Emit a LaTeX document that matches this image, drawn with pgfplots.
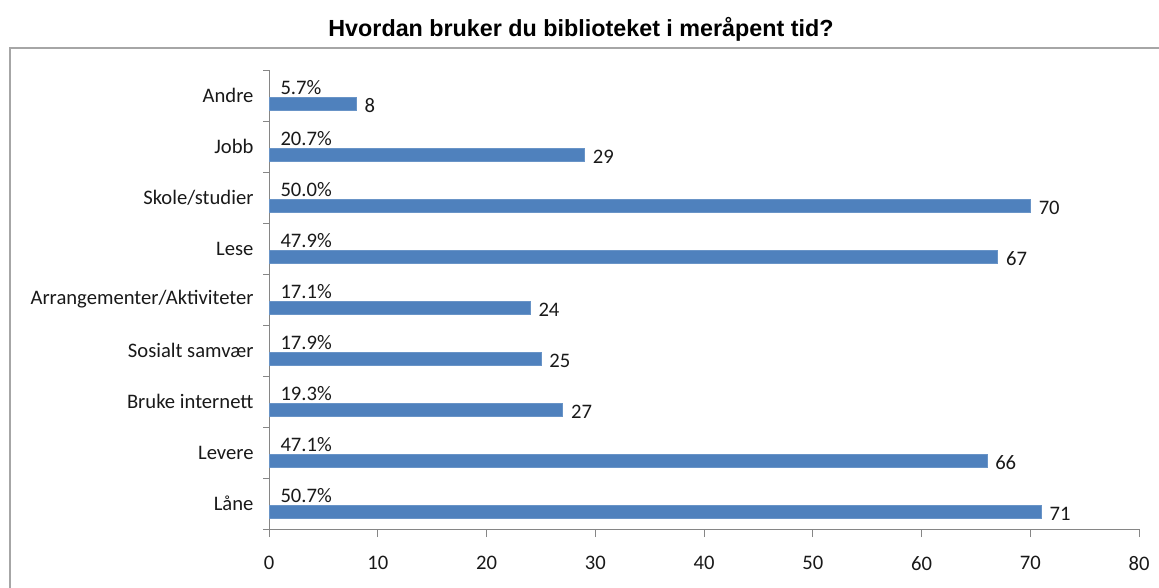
\documentclass[border=0pt]{standalone}
\usepackage{fontspec}
\setmainfont{Carlito}
\newfontfamily\titlefont{Liberation Sans}
\usepackage{pgfplots}
\pgfplotsset{compat=1.18}
\definecolor{barblue}{HTML}{4F81BD}
\definecolor{axisgray}{HTML}{868686}
\definecolor{boxgray}{HTML}{A6A6A6}
\begin{document}
\begin{tikzpicture}[x=1bp,y=1bp]
\path[use as bounding box] (0,0) rectangle (1159,-588);
\draw[boxgray, line width=1.5bp] (10,-588) -- (10,-48) -- (1159,-48);
\node[anchor=base, font=\titlefont\bfseries\fontsize{23.4}{27}\selectfont] at (581,-37) {Hvordan bruker du biblioteket i meråpent tid?};
\begin{axis}[
  at={(269bp,-529bp)}, anchor=south west,
  scale only axis, width=870bp, height=459bp,
  xmin=0, xmax=80, ymin=-0.5, ymax=8.5,
  axis lines*=left,
  axis line style={axisgray, line width=1bp},
  xtick={0,10,...,80}, tick align=outside,
  major tick length=8bp, minor tick length=6bp,
  major x tick style={axisgray, line width=1bp},
  ytick={0,...,8},
  yticklabels={Låne,Levere,Bruke internett,Sosialt samvær,Arrangementer/Aktiviteter,Lese,Skole/studier,Jobb,Andre},
  major y tick style={draw=none},
  minor ytick={-0.5,0.5,...,8.5},
  minor y tick style={axisgray, line width=1bp},
  /pgf/number format/assume math mode=true,
  ticklabel style={font=\fontsize{20.7}{24}\selectfont, text=black!90},
  yticklabel style={xshift=-4bp},
  xticklabel style={yshift=-16bp},
  xbar, bar width=12.6bp,
  clip=false,
]
\addplot[fill=barblue, draw=barblue!85!white, bar shift=-8bp,
  nodes near coords,
  every node near coord/.append style={anchor=west, xshift=5bp, yshift=-2bp, text=black!90, font=\fontsize{20.7}{24}\selectfont}]
  coordinates {(71,0) (66,1) (27,2) (25,3) (24,4) (67,5) (70,6) (29,7) (8,8)};
\addplot[draw=none, fill=none, bar shift=8bp,
  nodes near coords, point meta=explicit symbolic,
  every node near coord/.append style={anchor=west, xshift=8bp, text=black!90, font=\fontsize{20.7}{24}\selectfont}]
  coordinates {(0,0) [50.7\%] (0,1) [47.1\%] (0,2) [19.3\%] (0,3) [17.9\%] (0,4) [17.1\%] (0,5) [47.9\%] (0,6) [50.0\%] (0,7) [20.7\%] (0,8) [5.7\%]};
\end{axis}
\end{tikzpicture}
\end{document}
